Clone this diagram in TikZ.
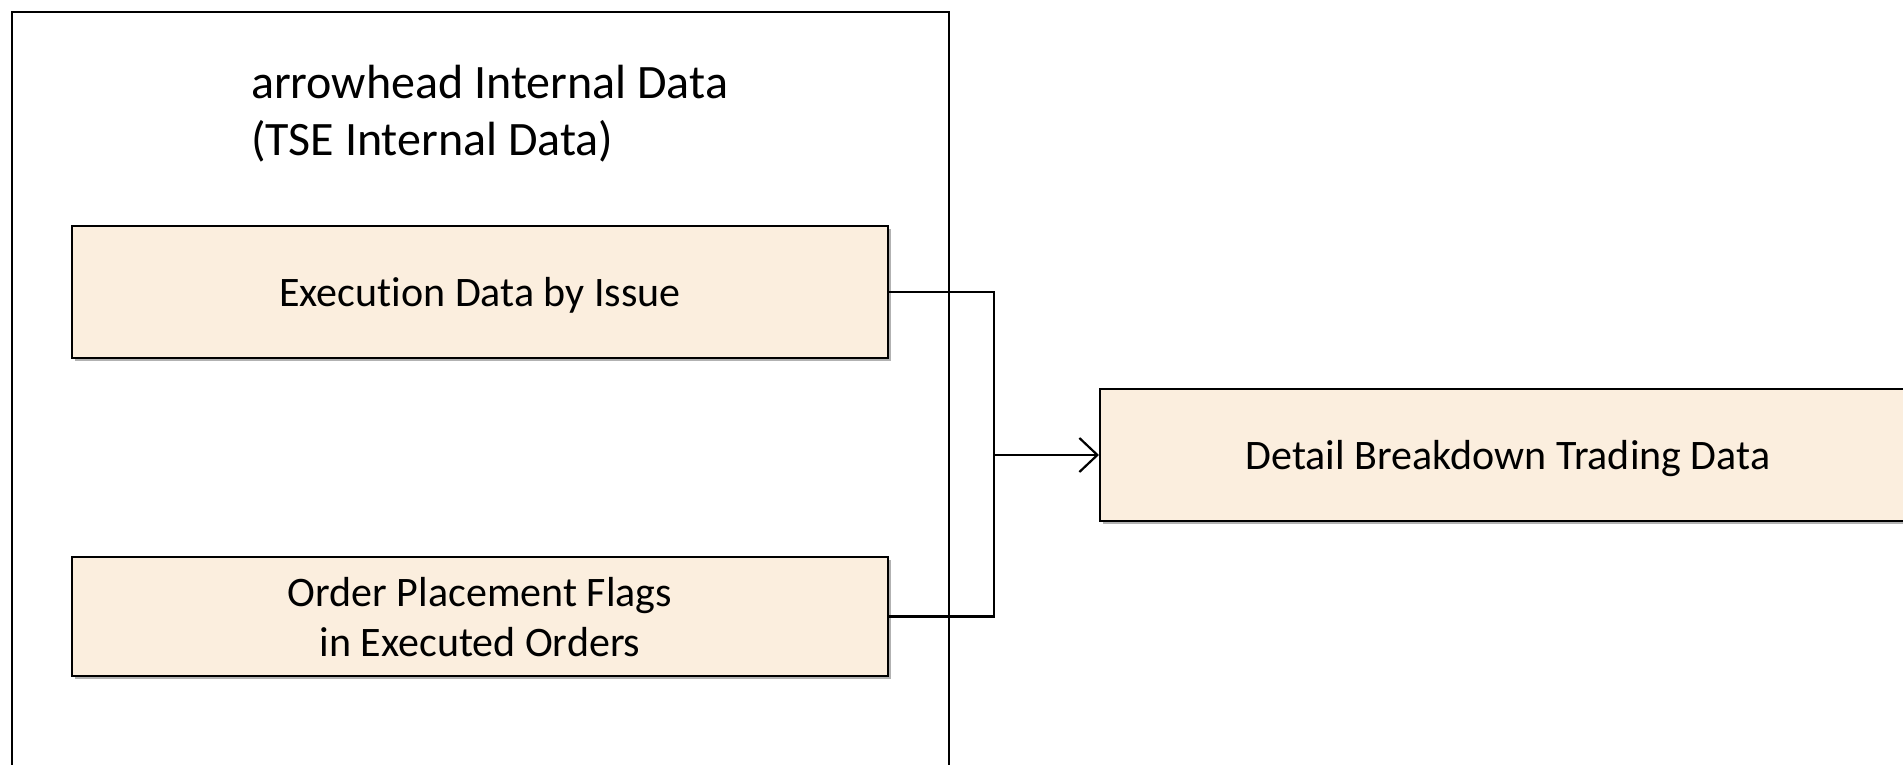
\documentclass[tikz,border=0pt]{standalone}
\usepackage{fontspec}
\setmainfont[RawFeature={-liga;-clig;-dlig;-calt}]{Carlito}
\usetikzlibrary{arrows.meta,shadows}
\definecolor{boxfill}{RGB}{251,238,222}
\tikzset{
    databox/.style={draw=black,line width=1pt,fill=boxfill,minimum width=408pt,minimum height=66pt,
        align=center,font=\fontsize{21}{25}\selectfont,text depth=0pt,
        drop shadow={shadow xshift=1.5pt,shadow yshift=-1.5pt,opacity=0.3,fill=black}},
    link/.style={line width=1.1pt}
}
\begin{document}
\begin{tikzpicture}[x=0.5pt,y=-0.5pt]
    \clip (0,0) rectangle (1903,765);
    % Internal data frame
    \draw[line width=0.8pt] (12,800) -- (12,12) -- (949,12) -- (949,800);
    \node[anchor=west,align=left,font=\fontsize{24}{28.5}\selectfont] (title) at (244,114) {arrowhead Internal Data\\(TSE Internal Data)};
    
    % Source boxes
    \node[databox] (exec) at (480,292) {Execution Data by Issue};
    \node[databox,minimum height=59.5pt] (flags) at (480,616.5) {Order Placement Flags\\in Executed Orders};
    
    % Target box
    \node[databox] (detail) at (1508,455) {Detail Breakdown Trading Data};
    
    % Connectors
    \coordinate (join) at (994,455);
    \draw[link] (exec.east) -| (join);
    \draw[link] (flags.east) -| (join);
    \draw[link,-{Straight Barb[length=9pt,width=17pt,line width=1.1pt]}] (join) -- (detail.west);
\end{tikzpicture}
\end{document}
